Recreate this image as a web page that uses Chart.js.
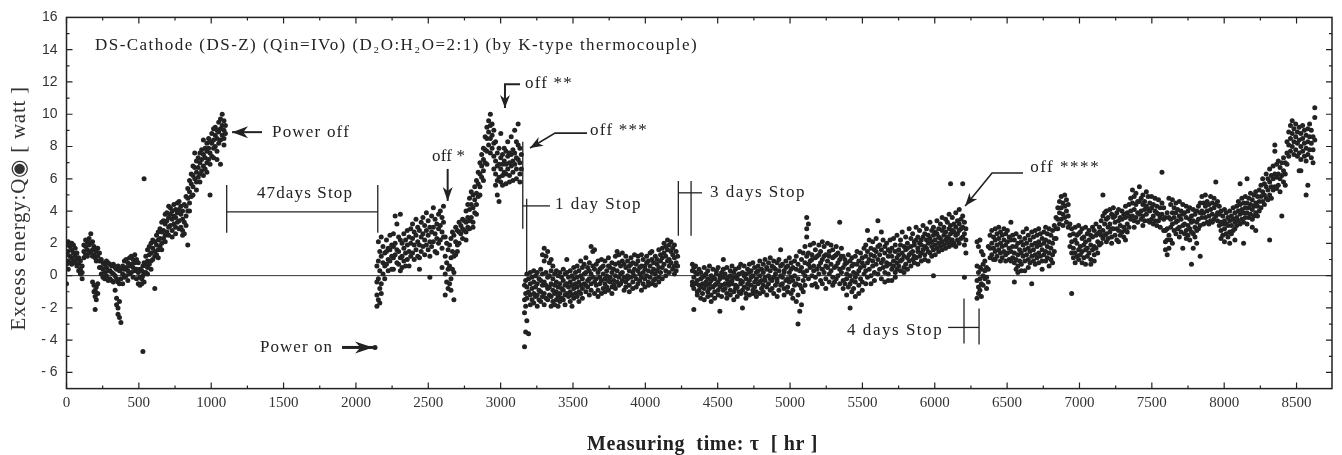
<!DOCTYPE html>
<html>
<head>
<meta charset="utf-8">
<title>DS-Cathode excess energy</title>
<script src="https://cdn.jsdelivr.net/npm/chart.js@4.4.1/dist/chart.umd.min.js"></script>
<style>
  html, body { margin: 0; padding: 0; background: #fff; }
  #wrap { width: 1342px; height: 455px; }
</style>
</head>
<body>
<div id="wrap"><canvas id="chart" width="1342" height="455"></canvas></div>
<script>
// tick labels
const xTicks = [0, 500, 1000, 1500, 2000, 2500, 3000, 3500, 4000, 4500, 5000, 5500, 6000, 6500, 7000, 7500, 8000, 8500];
const yTicks = [-6, -4, -2, 0, 2, 4, 6, 8, 10, 12, 14, 16];

// excess energy readings, one row per time: [hr, reading, reading, ...]
// before the 47 days stop
const seg1 = [
  [0,1.9,1.3,0.7,-0.5],[12,2.1,1.5,0.9,0.4],[24,1.8,1.2,0.8],[36,2.0,1.6,1.1,0.7],[48,1.9,1.4,0.9],
  [60,1.7,1.2,0.8],[72,1.4,1.0,0.6],[84,1.1,0.7,0.3],[96,0.9,0.4,0.1],[108,0.6,0.2,-0.2],
  [120,1.9,1.5,1.1],[132,2.2,1.8,1.3],[144,2.1,1.6,1.2],[156,2.3,1.9,1.4],[168,2.6,2.0,1.5],
  [180,2.1,1.6,1.2,-0.4],[190,1.8,1.3,-0.6,-1.0],[198,1.6,1.1,-0.9,-1.3,-2.1],[206,1.5,0.9,-0.7,-1.5],[216,1.7,1.2,-0.5,-1.1],
  [228,1.4,0.9,0.5],[240,1.0,0.5,0.1],[252,0.8,0.4,-0.1],[264,0.7,0.2,-0.2],[276,0.9,0.5,0.0],
  [288,0.8,0.3,-0.3],[300,0.7,0.3,-0.2],[312,0.6,0.2,-0.3],[324,0.7,0.1,-0.4],[336,0.5,0.0,-0.9],
  [346,0.4,-0.2,-1.4,-1.8],[356,0.6,-0.4,-2.0,-2.4],[366,0.3,-0.5,-1.6,-2.6],[376,0.4,-0.2,-2.9],[388,0.6,0.1,-0.5],
  [400,0.9,0.4,-0.1],[412,1.0,0.5,0.0],[424,0.8,0.3,-0.3],[436,1.1,0.6,0.1],[448,1.2,0.7,0.2],
  [460,1.0,0.5,-0.1],[472,1.3,0.8,0.3],[484,1.0,0.4,-0.2],[496,0.8,0.2,-0.5],[508,0.4,-0.1,-0.6],
  [520,0.3,-0.2,-0.5],[528,0.6,0.0,-4.7],[536,6.0,0.8,0.2,-0.4],[548,1.2,0.7,0.2],[560,1.6,0.9,0.5,0.1],
  [572,1.8,1.3,0.7],[584,2.0,1.4,0.9,0.4],[596,2.2,1.7,1.0],[610,2.1,1.5,1.2,-0.8],[622,2.5,1.9,1.3],
  [634,2.7,2.2,1.6,1.1],[646,2.9,2.3,1.8],[658,3.3,2.7,2.0,1.6],[670,3.4,2.8,2.3],[682,3.8,3.2,2.5,2.1],
  [694,3.9,3.4,2.7],[706,4.3,3.6,3.0,2.5],[718,4.2,3.8,3.1],[730,4.0,3.5,2.8,2.4],[742,4.4,3.7,3.2],
  [754,4.1,3.6,3.0,2.6],[766,4.5,3.9,3.3],[778,4.6,4.1,3.4,2.9],[790,4.3,3.8,3.0],[802,4.0,3.5,2.8,2.5],
  [814,4.4,3.3,2.6],[826,4.9,4.3,3.7,3.1],[838,5.4,4.8,4.0,1.9],[850,5.9,5.2,4.5,4.0],[862,6.3,5.7,4.9],
  [874,6.8,6.2,5.5,5.0],[886,7.6,6.7,6.0],[898,7.1,6.4,5.8,5.3],[910,7.3,6.7,6.1],[922,7.6,7.0,6.3,5.8],
  [934,7.8,7.2,6.5],[946,8.4,7.5,6.8,6.2],[958,7.9,7.3,6.6],[970,8.2,7.7,7.0,6.4],[982,8.5,7.9,7.2],
  [992,8.3,7.6,6.9,5.0],[1004,8.8,8.2,7.4],[1016,9.1,8.4,7.9,7.3],[1028,9.2,8.7,8.0],[1040,9.0,8.5,7.7,7.2],
  [1052,9.5,8.9,8.2],[1064,9.7,9.1,8.4,6.9],[1076,10.0,9.3,8.7],[1088,9.6,9.0,8.5,8.1],[1098,9.3,8.8]
];
const powerOn = [[2132,-4.45]];
// restart up to the 1 day stop
const seg2 = [
  [2145,0.6,-0.4,-1.2,-1.9],[2155,2.1,0.9,-0.2,-1.5],[2165,1.5,0.3,-0.8,-1.7],[2175,2.4,1.2,-0.5,-1.1],[2187,1.8,0.8,0.1],
  [2199,1.4,0.6,-0.2],[2211,2.2,1.5,0.7],[2223,1.7,1.0,0.3],[2235,2.5,1.6,0.9],[2247,1.9,1.2,0.4],
  [2259,2.6,1.8,1.1,0.4],[2271,3.7,2.0,1.3],[2283,3.2,1.6,0.8],[2295,2.4,1.5,0.7],[2307,3.8,2.2,1.1,0.3],
  [2319,2.0,1.2,0.5],[2331,2.6,1.7,0.9],[2343,2.2,1.4,0.6],[2355,2.8,1.9,1.0],[2367,2.4,1.5,0.6],
  [2379,2.9,2.0,1.2],[2391,3.2,2.3,1.4],[2403,2.7,1.9,1.0],[2415,3.5,2.5,1.6],[2427,3.0,2.1,1.2],
  [2439,2.8,1.9,1.1,0.4],[2451,3.3,2.4,1.5],[2463,3.6,2.6,1.8],[2475,3.1,2.2,1.3],[2487,3.9,2.8,1.9],
  [2499,3.4,2.5,1.6],[2511,3.0,2.1,1.2,-0.1],[2523,3.7,2.7,1.8],[2535,4.2,3.0,2.1],[2547,3.5,2.6,1.5],
  [2559,3.2,2.3,1.4],[2571,3.8,2.9,2.0],[2583,4.0,3.1,2.2],[2595,3.6,2.7,1.7,0.5],[2605,4.3,3.3,2.4],
  [2617,2.4,1.2,0.1,-1.2],[2627,2.0,0.8,-0.4],[2637,1.6,0.4,-0.8],[2647,1.9,0.6,-0.5],[2657,2.3,1.1,-0.2,-0.9],
  [2667,2.7,1.5,0.4],[2677,2.5,1.2,0.2,-1.5],[2689,3.0,2.1,1.3],[2701,2.8,1.9,1.5],[2713,3.3,2.7,2.0],
  [2725,3.1,2.6],[2737,3.5,2.9,2.3],[2749,3.4,2.8],[2761,4.0,3.3,2.7,2.2],[2773,4.4,3.6,3.0],
  [2785,4.8,4.1,3.4,2.9],[2797,5.2,4.4,3.6],[2809,5.0,4.2,3.3,3.0],[2821,5.5,4.7,3.9],[2833,5.9,5.1,4.4,3.8],
  [2845,6.4,5.7,4.9],[2857,7.0,6.3,5.5,5.0],[2869,7.5,6.8,6.1],[2881,7.9,7.2,6.5,5.9],[2893,8.6,7.8,7.0],
  [2905,9.2,8.5,7.7,6.9],[2917,9.6,8.9,8.1],[2929,10.0,9.3,8.5,7.6],[2941,9.4,8.7,7.9],[2953,9.0,8.2,7.4,6.6],
  [2965,8.3,7.1,6.3,5.6],[2977,7.6,6.8,5.9,5.0],[2989,7.9,6.9,6.1,4.6],[3001,8.8,7.3,6.6,5.8],[3013,7.5,6.9,6.2,5.6],
  [3025,7.9,7.1,6.4],[3037,7.7,6.9,6.3,5.7],[3049,8.3,7.4,6.6],[3061,7.6,7.0,6.2,5.8],[3073,8.6,7.5,6.8],
  [3085,7.8,7.1,6.4,5.9],[3097,9.0,7.6,6.9],[3109,8.3,7.3,6.6,6.0],[3121,9.4,8.1,7.2],[3133,7.9,7.0,6.3,5.8],
  [3143,7.5,6.6]
];
// after the 1 day stop
const seg3 = [
  [3165,-0.6,-1.5,-2.3,-4.4],[3173,-0.3,-1.1,-1.9,-3.5],[3181,0.1,-0.7,-1.4,-2.8],[3193,-0.2,-1.0,-3.6],[3205,0.2,-0.5,-1.2,-1.8],
  [3217,-0.1,-0.8,-1.5],[3229,0.3,-0.4,-1.1,-1.7],[3241,0.0,-0.7,-1.3],[3253,0.2,-0.5,-1.2,-1.9],[3265,-0.2,-0.9,-1.5],
  [3277,0.4,-0.3,-1.0,-1.6],[3289,1.3,0.1,-0.6,-1.3],[3301,1.7,0.9,-0.4,-1.1,-1.8],[3313,1.2,0.2,-0.6,-1.4],[3325,1.5,-0.1,-0.8,-1.5],
  [3337,0.8,0.0,-0.7,-1.2],[3349,1.0,0.3,-0.5,-1.3,-1.9],[3361,0.6,-0.2,-0.9,-1.6],[3373,0.1,-0.6,-1.1,-1.8],[3385,0.3,-0.4,-1.0,-1.5],
  [3397,0.0,-0.7,-1.3,-1.9],[3409,0.2,-0.5,-1.1,-1.6],[3421,-0.1,-0.8,-1.4],[3433,0.4,-0.3,-0.9,-1.5],[3445,0.1,-0.6,-1.2,-1.8],
  [3457,1.0,0.2,-0.5,-1.1],[3469,-0.1,-0.7,-1.3],[3481,0.3,-0.4,-1.0,-1.6],[3493,0.0,-0.6,-1.2,-1.9],[3505,0.5,-0.2,-0.8,-1.4],
  [3517,0.2,-0.5,-1.1],[3529,0.6,-0.1,-0.7,-1.3],[3541,0.3,-0.4,-1.0,-1.6],[3553,0.9,0.0,-0.6,-1.1],[3565,0.5,-0.2,-0.8,-1.4],
  [3577,0.7,0.1,-0.5],[3589,1.1,0.2,-0.6,-1.0],[3601,0.5,-0.3,-0.7],[3613,0.8,0.3,-0.2,-1.2],[3625,1.8,0.1,-0.5,-0.9],
  [3637,1.5,0.6,-0.1],[3649,1.6,0.4,-0.4,-1.1],[3661,0.7,-0.2,-0.6],[3673,0.9,0.2,-0.9,-1.3],[3685,0.4,-0.1,-0.5],
  [3697,1.0,0.5,-0.3,-1.1],[3709,0.6,0.1,-0.8],[3721,0.9,-0.2,-0.5,-1.0],[3733,0.3,0.0,-0.7],[3745,1.1,0.6,-0.3,-0.9],
  [3757,0.5,-0.1,-0.4],[3769,0.8,0.2,-0.7,-1.1],[3781,0.4,-0.3,-0.6],[3793,1.2,0.7,0.0,-0.8],[3805,1.5,0.3,-0.4],
  [3817,1.3,0.8,-0.1,-0.6],[3829,0.6,0.1,-0.5],[3841,1.4,0.9,0.2,-0.3],[3853,0.7,-0.1,-0.9],[3865,1.2,0.5,-0.4,-0.7],
  [3877,0.9,0.0,-0.2],[3889,0.6,0.3,-0.6,-1.0],[3901,1.1,0.7,-0.1],[3913,0.8,0.2,-0.4,-0.8],[3925,1.3,0.4,0.0],
  [3937,0.7,-0.2,-0.7],[3949,1.2,0.9,0.3,-0.5],[3961,0.5,0.1,-0.3],[3973,1.3,0.6,-0.1,-0.9],[3985,1.0,0.2,-0.5],
  [3997,0.6,0.4,-0.2,-0.7],[4009,1.2,0.8,0.0],[4021,0.9,0.3,-0.4,-0.6],[4033,1.4,0.6,-0.1],[4045,1.5,1.0,0.2,-0.5],
  [4057,0.8,0.4,-0.3],[4069,1.2,0.1,-0.6,-0.2],[4081,1.0,0.7,0.3],[4093,1.6,0.5,-0.1,-0.4],[4105,1.3,0.9,0.2],
  [4117,1.7,1.1,0.5,-0.2],[4129,2.0,1.4,0.7],[4141,1.8,1.2,0.3,0.0],[4153,2.2,1.6,0.9],[4165,1.9,1.0,0.6,0.2],
  [4177,2.1,1.5,0.8],[4189,1.7,1.3,0.4],[4201,1.9,1.1,0.6,0.1],[4213,1.5,0.8,0.3],[4223,1.2,0.6]
];
// after the 3 days stop
const seg4 = [
  [4325,0.7,0.3,-0.4,-0.6],[4335,0.5,-0.1,-0.8,-2.1],[4347,0.6,0.2,-0.5],[4359,0.1,-0.3,-1.0,-1.2],[4371,0.4,-0.6,-0.9],
  [4383,0.2,-0.2,-0.7,-1.4],[4395,-0.1,-0.5,-1.1],[4407,0.5,0.0,-0.8,-1.5],[4419,0.1,-0.4,-0.6],[4431,0.3,-0.2,-1.0,-1.3],
  [4443,0.6,-0.5,-0.8],[4455,0.0,-0.3,-1.2,-1.6],[4467,0.4,-0.1,-0.7],[4479,-0.2,-0.6,-1.0,-1.4],[4491,0.3,0.1,-0.5],
  [4503,0.5,-0.4,-0.9,-1.2],[4515,0.0,-0.2,-0.7,-2.2],[4527,0.2,-0.6,-1.3],[4539,1.0,0.4,-0.1,-0.9],[4551,0.1,-0.5,-0.8],
  [4563,0.5,-0.2,-1.1,-1.4],[4575,-0.1,-0.4,-0.6],[4587,0.3,0.0,-0.9,-1.2],[4599,0.6,-0.3,-0.5],[4611,0.2,-0.1,-1.0,-1.5],
  [4623,0.4,-0.6,-0.8],[4635,0.0,-0.2,-0.7,-1.3],[4647,0.5,0.1,-1.0],[4659,0.7,-0.3,-0.5,-1.1],[4671,0.2,-0.4,-0.9,-2.0],
  [4683,0.6,0.0,-0.7],[4695,0.1,-0.2,-1.1,-1.4],[4707,0.4,-0.5,-0.8],[4719,0.7,0.2,-0.3,-1.2],[4731,0.3,-0.1,-0.6],
  [4743,0.8,0.0,-0.9,-1.1],[4755,0.5,-0.4,-0.7],[4767,0.2,-0.2,-1.0,-1.3],[4779,0.6,0.3,-0.5],[4791,0.9,0.0,-0.4,-1.1],
  [4803,0.4,-0.3,-0.8],[4815,0.7,0.2,-0.6,-1.0],[4827,1.0,-0.1,-0.3],[4839,0.5,0.4,-0.7,-1.2],[4851,0.8,0.0,-0.5],
  [4863,1.1,0.3,-0.2,-0.9],[4875,0.6,-0.3,-0.8],[4887,0.9,0.5,-0.1,-1.1],[4899,0.4,0.1,-0.6],[4911,0.8,-0.2,-0.4,-1.3],
  [4923,1.0,0.3,-0.9],[4935,1.6,0.6,0.0,-0.6],[4947,0.7,-0.1,-0.5],[4959,0.3,0.2,-0.8,-1.2],[4971,0.9,0.5,-0.3],
  [4983,0.6,-0.2,-0.7,-1.0],[4995,1.1,0.2,-0.4],[5007,0.8,0.4,-0.1,-1.1],[5019,0.5,-0.3,-0.9,-1.4],[5031,0.9,0.0,-0.6],
  [5043,1.2,0.4,-0.5,-1.6],[5055,0.7,-0.2,-1.2,-3.0],[5067,1.5,0.3,-0.6,-2.2],[5079,1.0,0.5,-0.8,-1.8],[5091,1.4,0.2,-0.3,-1.0],
  [5103,1.8,0.8,0.0,-0.6],[5115,3.6,2.9,2.4,1.2,0.3],[5127,3.2,1.4,0.7,-0.2],[5139,1.9,0.9,0.5],[5151,1.3,1.0,0.0,-0.6],
  [5163,2.0,0.6,0.3],[5175,1.6,1.1,-0.1,-0.5],[5187,1.2,0.4,-0.7],[5199,1.9,1.3,0.6,0.1],[5211,1.5,0.8,-0.3],
  [5223,2.1,1.0,0.4,-0.5],[5235,1.8,1.2,0.2],[5247,1.3,0.6,-0.2,-0.8],[5259,2.0,0.9,0.5],[5271,1.5,1.2,0.1,-0.4],
  [5283,1.9,0.7,0.3],[5295,1.6,1.1,-0.1,-0.6],[5307,1.2,0.5,-0.4],[5319,1.8,1.3,0.6,-0.2],[5331,1.4,0.8,0.0],
  [5343,3.3,1.0,0.4,-0.5],[5355,1.7,1.2,0.2],[5367,1.2,0.5,-0.3,-0.8],[5379,1.0,0.7,-0.5],[5391,0.8,0.1,-0.2,-1.2],
  [5403,1.3,0.4,-0.7],[5415,0.9,0.0,-0.5,-2.0],[5427,1.1,0.6,-0.3,-1.0],[5439,0.7,0.2,-0.8],[5451,1.2,-0.1,-0.4,-1.3],
  [5463,1.5,0.7,0.1],[5475,0.9,0.3,-0.6,-1.1],[5487,1.4,0.5,-0.2],[5499,1.1,0.8,-0.4,-0.9],[5511,1.7,0.6,0.1],
  [5523,1.9,1.2,0.3,-0.5],[5535,2.8,1.5,0.8,-0.1],[5547,2.2,1.0,0.4],[5559,1.7,1.3,0.0,-0.5],[5571,2.1,0.9,0.6],
  [5583,1.6,1.2,0.2,-0.3],[5595,2.3,1.5,0.7],[5607,3.4,1.8,1.0,0.1],[5619,1.9,1.3,0.4],[5631,2.7,1.6,0.8,-0.2],
  [5643,2.2,1.0,0.5],[5655,1.8,1.4,0.2,-0.4],[5667,2.0,0.8,0.6],[5679,1.6,1.2,0.1,-0.3],[5691,2.2,1.5,0.7],
  [5703,1.7,1.2,0.4,-0.3],[5715,2.3,0.9,0.6],[5727,1.9,1.5,0.2,-0.1],[5739,2.5,1.1,0.8,0.4],[5751,1.6,1.3,0.6],
  [5763,2.2,1.9,0.9,0.3],[5775,2.7,1.4,1.0],[5787,1.8,1.2,0.5,0.2],[5799,2.4,1.6,0.7],[5811,2.0,1.7,1.1,0.4],
  [5823,2.9,1.3,0.9],[5835,2.3,1.8,1.4,0.6],[5847,2.6,1.5,1.0],[5859,2.1,1.9,1.2,0.8],[5871,3.0,2.2,1.1],
  [5883,2.4,1.7,1.5,0.7],[5895,2.8,2.0,1.2],[5907,2.2,1.9,1.4,0.9],[5919,3.1,2.4,1.6],[5931,2.6,1.8,1.3,1.0],
  [5943,2.9,2.2,1.7],[5955,2.5,2.0,1.5,0.9],[5967,3.3,2.3,1.4],[5979,2.8,2.1,1.8,1.2],[5991,3.0,2.5,1.6,0.0],
  [6003,2.7,2.2,1.9,1.3],[6015,3.4,2.6,1.7],[6027,2.9,2.4,2.0,1.5],[6039,3.2,2.3,1.8],[6051,3.6,2.8,2.1,1.6],
  [6063,3.0,2.5,1.9],[6075,3.5,2.7,2.2,1.7],[6087,3.3,2.4,2.0],[6099,3.8,2.9,2.3,1.8],[6109,5.7,3.1,2.6,2.1],
  [6121,3.6,2.8,2.2,1.9],[6133,3.2,2.7,2.0],[6145,3.9,3.0,2.5,1.8],[6157,3.4,2.6,2.2],[6169,4.1,3.2,2.8,2.0],
  [6181,3.5,2.9,2.3],[6193,5.7,3.7,3.0,2.4],[6205,3.3,2.6,1.9,-0.1],[6215,2.9,2.2,1.4]
];
// after the 4 days stop
const seg5 = [
  [6292,2.1,0.6,-0.3,-1.4],[6302,1.8,0.2,-0.7,-1.1],[6312,2.2,0.5,-0.2,-0.9],[6322,1.5,0.4,-0.5,-1.3],[6334,1.3,0.7,0.0,-0.6],
  [6346,0.9,0.3,-0.2],[6358,0.5,-0.1,-0.8],[6370,1.8,0.4,-0.4],[6382,2.5,1.7,1.1],[6394,2.8,2.0,1.3],
  [6406,2.4,1.7,1.0],[6418,2.9,2.2,1.5,1.0],[6430,2.6,1.9,1.2],[6442,3.0,2.3,1.6],[6454,2.7,2.0,1.4,0.9],
  [6466,2.5,1.8,1.1],[6478,2.9,2.2,1.5],[6490,2.6,1.9,1.3,0.9],[6502,2.8,2.1,1.4],[6514,2.4,1.7,1.0],
  [6526,3.3,2.2,1.5,0.9],[6538,2.5,1.8,1.1],[6550,2.2,1.4,0.8,-0.4],[6562,2.6,1.8,1.0,0.4],[6574,2.0,1.3,0.6,0.2],
  [6586,2.4,1.6,0.9],[6598,2.1,1.4,0.7,0.3],[6610,2.7,1.9,1.2],[6622,2.3,1.6,0.9,0.3],[6634,2.9,2.0,1.3],
  [6646,2.5,1.7,1.0,0.5],[6658,2.2,1.5,0.8],[6670,2.7,1.9,1.2,-0.5],[6682,2.4,1.6,0.9],[6694,2.8,2.0,1.3,0.7],
  [6706,2.5,1.8,1.1],[6718,2.9,2.1,1.4,0.8],[6730,2.6,1.9,1.2],[6742,2.3,1.6,0.9,0.4],[6754,2.7,2.0,1.3],
  [6766,3.0,2.2,1.5,0.9],[6778,2.6,1.8,1.1],[6790,2.9,2.1,1.4,0.6],[6802,2.5,1.7,1.0],[6814,2.8,2.0,1.3,0.8],
  [6826,3.1,2.3,1.5],[6838,3.6,2.9,2.3],[6850,4.2,3.5,2.9],[6862,4.6,3.9,3.2],[6874,4.9,4.2,3.5],
  [6886,4.5,3.8,3.1],[6898,5.0,4.3,3.6],[6910,4.7,4.0,3.3],[6922,4.4,3.7,3.0],[6934,3.2,2.5,1.8],
  [6946,2.9,2.1,1.4,-1.1],[6958,2.6,1.7,1.1],[6970,3.0,2.2,1.4,0.8],[6982,2.5,2.0,1.2],[6994,3.1,2.6,1.6,1.0],
  [7006,2.7,1.8,1.3],[7018,2.9,2.3,1.5,0.8],[7030,2.4,1.9,1.1],[7042,3.0,2.1,1.6,0.7],[7054,2.6,1.7,1.2],
  [7066,2.8,2.2,1.4],[7078,2.5,1.9,1.0,0.7],[7090,3.0,2.4,1.6],[7102,2.8,1.8,1.3,0.9],[7114,3.2,2.5,1.7],
  [7126,2.6,2.1,1.4],[7138,3.0,2.7,1.9],[7150,3.4,2.5,2.0],[7162,5.0,3.7,2.8,2.3],[7174,3.9,3.2,2.5],
  [7186,4.0,3.5,2.6,2.1],[7198,3.6,3.0,2.3],[7210,4.1,3.2,2.7],[7222,3.8,2.9,2.4,2.0],[7234,4.2,3.6,2.9],
  [7246,3.7,3.3,2.5],[7258,3.9,2.9,2.2],[7270,4.1,3.4,2.8,2.1],[7282,3.6,3.1,2.5],[7294,4.0,3.5,2.7],
  [7306,3.8,3.0,2.4],[7318,4.3,3.6,2.8,2.2],[7330,3.9,3.2,2.7],[7342,4.4,3.7,3.0],[7354,4.8,4.0,3.5],
  [7366,5.3,4.5,3.7],[7378,4.9,4.1,3.4,3.0],[7390,5.1,4.4,3.6],[7402,4.6,3.9,3.3],[7414,5.5,4.6,3.8],
  [7426,4.8,4.0,3.5],[7438,5.0,4.4,3.7,3.1],[7450,4.6,4.1,3.4],[7462,5.2,4.3,3.8],[7474,4.9,4.1,3.4],
  [7486,4.5,4.0,3.3],[7498,4.9,4.2,3.5],[7510,4.4,3.7,3.2],[7522,4.8,4.0,3.4],[7534,4.3,3.9,3.1],
  [7546,4.7,3.8,3.4],[7558,4.2,3.6,3.0],[7570,6.4,4.5,3.8],[7582,4.2,3.5,2.8],[7594,3.6,2.8,2.1,1.6],
  [7606,3.9,2.9,2.2,1.3],[7618,4.8,3.6,2.5,1.7],[7630,4.4,3.5,3.0,2.2],[7642,4.7,3.9,3.2,2.0],[7654,4.2,3.6,2.8],
  [7666,4.5,3.9,3.3,2.6],[7678,4.1,3.4,2.9],[7690,4.6,3.7,3.0,2.4],[7702,4.0,3.5,2.7],[7714,4.4,3.8,3.1,1.7],
  [7726,3.9,3.2,2.6],[7738,4.3,3.6,2.8,2.3],[7750,4.0,3.1,2.5],[7762,4.2,3.5,2.9,2.2],[7774,3.7,3.3,2.7,0.7],
  [7786,4.1,3.4,2.6,1.7],[7798,3.8,3.0,2.4],[7810,4.0,3.3,2.8,2.0],[7822,4.3,3.5,2.9],[7834,4.5,3.9,3.1,1.2],
  [7846,4.9,4.0,3.6],[7858,4.5,3.9,3.2],[7870,5.0,4.3,3.6],[7882,4.6,4.0,3.3],[7894,4.4,3.7,3.2],
  [7906,4.9,4.1,3.4],[7918,4.5,3.8,3.3],[7930,4.8,4.2,3.5],[7942,5.8,4.4,3.7],[7954,4.6,3.9,3.4],
  [7966,4.3,3.8,3.1],[7978,4.0,3.3,2.8,2.3],[7990,3.7,3.2,2.5],[8002,4.1,3.4,2.9,2.1],[8014,3.9,3.2,2.6],
  [8026,3.6,3.1,2.4],[8038,4.0,3.4,2.7,2.0],[8050,3.7,3.1,2.6],[8062,4.2,3.5,2.8],[8074,3.9,3.3,2.9,2.2],
  [8086,4.3,3.6,3.1],[8098,4.6,4.0,3.4],[8110,5.7,4.4,3.8,3.2],[8122,4.8,4.1,3.5],[8134,4.5,3.9,3.3,2.0],
  [8146,4.9,4.2,3.6],[8158,6.0,4.5,3.9,3.2],[8170,4.8,4.2,3.6],[8182,5.1,4.4,3.8],[8194,4.7,4.1,3.5,3.0],
  [8206,5.0,4.3,3.7],[8218,5.2,4.5,3.9,2.8],[8230,4.9,4.3,3.7],[8242,5.3,4.6,4.0],[8254,5.6,4.9,4.2],
  [8266,6.0,5.2,4.6],[8278,5.7,5.0,4.4],[8290,6.3,5.5,4.8],[8302,6.0,5.3,4.7],[8314,6.6,5.8,5.0,2.2],
  [8326,6.2,5.5,4.8],[8338,6.8,6.0,5.3],[8350,8.1,7.7,6.3,5.5],[8362,6.9,6.1,5.4],[8374,7.1,6.3,5.6],
  [8386,6.7,6.0,5.2],[8398,7.0,6.2,3.7],[8410,7.3,6.5,5.8],[8422,7.0,6.3,5.6],[8434,8.3,7.6,6.9],
  [8446,8.9,8.1,7.4],[8458,9.3,8.5,7.7],[8470,9.6,8.8,8.0],[8482,9.1,8.3,7.5],[8494,9.4,8.6,7.8],
  [8506,8.9,8.2,7.4],[8518,9.2,8.4,7.6,6.5],[8530,8.8,8.0,7.2,6.5],[8542,9.3,8.5,7.7],[8554,9.0,8.2,7.4],
  [8566,8.7,7.9,7.1,5.0],[8578,9.1,8.3,7.5,5.6],[8590,9.4,8.6,7.8],[8602,9.0,8.2,7.3],[8614,8.6,7.8,7.0],
  [8626,10.4,9.8,8.4]
];

const toPoints = rows => rows.flatMap(r => r.slice(1).map(v => ({ x: r[0], y: v })));
const points = [seg1, powerOn, seg2, seg3, seg4, seg5].flatMap(toPoints);

const ink = '#222';
const serif = '"Liberation Serif", "DejaVu Serif", serif';

// frame, inward ticks, zero line, labels and arrows (all placed through the scales)
const decor = {
  id: 'decor',
  beforeDatasetsDraw(chart) {
    const { ctx, chartArea: a, scales: { y } } = chart;
    ctx.save();
    ctx.strokeStyle = '#333';
    ctx.lineWidth = 1;
    ctx.beginPath();
    ctx.moveTo(a.left, y.getPixelForValue(0));
    ctx.lineTo(a.right, y.getPixelForValue(0));
    ctx.stroke();
    ctx.restore();
  },
  afterDraw(chart) {
    const { ctx, chartArea: a, scales: { x, y } } = chart;
    const P = (h, v) => [x.getPixelForValue(h), y.getPixelForValue(v)];

    ctx.save();
    ctx.strokeStyle = ink;
    ctx.fillStyle = ink;

    // frame
    ctx.lineWidth = 1.5;
    ctx.strokeRect(a.left, a.top, a.right - a.left, a.bottom - a.top);

    // ticks
    ctx.lineWidth = 1.2;
    ctx.beginPath();
    for (let h = 0; h <= 8500; h += 250) {
      const px = x.getPixelForValue(h), len = h % 500 === 0 ? 6 : 3;
      ctx.moveTo(px, a.bottom); ctx.lineTo(px, a.bottom - len);
      ctx.moveTo(px, a.top); ctx.lineTo(px, a.top + len);
    }
    for (let v = -6; v <= 15; v++) {
      const py = y.getPixelForValue(v), len = v % 2 === 0 ? 6 : 3;
      ctx.moveTo(a.left, py); ctx.lineTo(a.left + len, py);
      ctx.moveTo(a.right, py); ctx.lineTo(a.right - len, py);
    }
    ctx.stroke();

    function poly(pts, lw) {
      ctx.lineWidth = lw;
      ctx.beginPath();
      pts.forEach(([h, v], i) => {
        const [px, py] = P(h, v);
        if (i === 0) ctx.moveTo(px, py); else ctx.lineTo(px, py);
      });
      ctx.stroke();
    }
    function arrow(pts, lw, len, wid) {
      poly(pts, lw);
      const [tx, ty] = P(...pts[pts.length - 1]);
      const [fx, fy] = P(...pts[pts.length - 2]);
      const d = Math.hypot(tx - fx, ty - fy), ux = (tx - fx) / d, uy = (ty - fy) / d;
      const bx = tx - ux * len, by = ty - uy * len, nx = -uy * wid / 2, ny = ux * wid / 2;
      ctx.beginPath();
      ctx.moveTo(tx, ty);
      ctx.lineTo(bx + nx, by + ny);
      ctx.lineTo(tx - ux * len * 0.7, ty - uy * len * 0.7);
      ctx.lineTo(bx - nx, by - ny);
      ctx.closePath();
      ctx.fill();
    }
    function txt(s, h0, h1, v, font) {
      const [x0, py] = P(h0, v), x1 = x.getPixelForValue(h1);
      ctx.font = font;
      ctx.letterSpacing = '0px';
      const w = ctx.measureText(s).width;
      ctx.letterSpacing = ((x1 - x0 - w) / s.length) + 'px';
      ctx.textAlign = 'left';
      ctx.textBaseline = 'middle';
      ctx.fillText(s, x0, py);
      ctx.letterSpacing = '0px';
    }

    const f17 = '17px ' + serif;
    txt('DS-Cathode (DS-Z) (Qin=IVo) (D\u2082O:H\u2082O=2:1) (by K-type thermocouple)', 197, 4364, 14.27, '17px ' + serif);

    arrow([[1351, 8.89], [1144, 8.89]], 2, 16, 12);
    txt('Power off', 1420, 1959, 8.89, f17);

    poly([[1107, 5.62], [1107, 2.66]], 1.3);
    poly([[2151, 5.62], [2151, 2.66]], 1.3);
    poly([[1107, 3.95], [2151, 3.95]], 1.3);
    txt('47days Stop', 1316, 1980, 5.06, f17);

    arrow([[1904, -4.45], [2118, -4.45]], 3, 18, 12);
    txt('Power on', 1337, 1842, -4.45, f17);

    arrow([[2634, 6.61], [2634, 4.63]], 2, 14, 10);
    txt('off *', 2526, 2754, 7.41, f17);

    arrow([[3134, 11.86], [3030, 11.86], [3030, 10.38]], 2, 13, 10);
    txt('off **', 3169, 3500, 11.92, f17);

    arrow([[3597, 8.83], [3376, 8.83], [3203, 7.91]], 1.6, 13, 10);
    txt('off ***', 3618, 4019, 8.96, f17);

    poly([[3153, 8.3], [3153, 2.9]], 1.3);
    poly([[3180, 4.76], [3180, 0.12]], 1.3);
    poly([[3153, 4.32], [3341, 4.32]], 1.3);
    txt('1 day Stop', 3376, 3977, 4.39, f17);

    poly([[4228, 5.87], [4228, 2.47]], 1.3);
    poly([[4316, 5.87], [4316, 2.47]], 1.3);
    poly([[4228, 5.13], [4392, 5.13]], 1.3);
    txt('3 days Stop', 4447, 5111, 5.13, f17);

    arrow([[6610, 6.36], [6396, 6.36], [6210, 4.32]], 1.6, 13, 10);
    txt('off ****', 6659, 7143, 6.67, f17);

    poly([[6202, -1.42], [6202, -4.2]], 1.3);
    poly([[6306, -2.04], [6306, -4.26]], 1.3);
    poly([[6092, -3.21], [6306, -3.21]], 1.3);
    txt('4 days Stop', 5394, 6058, -3.40, f17);

    // axis titles
    txt('Measuring  time: \u03c4  [ hr ]', 3597, 5193, -10.5, 'bold 20px ' + serif);

    const [tx, t0] = P(-325, -3.40), t1 = y.getPixelForValue(11.74);
    const yTitle = 'Excess energy:Q\u25c9 [ watt ]';
    ctx.translate(tx, (t0 + t1) / 2);
    ctx.rotate(-Math.PI / 2);
    ctx.font = '21px ' + serif;
    ctx.letterSpacing = '0px';
    const w = ctx.measureText(yTitle).width;
    ctx.letterSpacing = ((t0 - t1 - w) / yTitle.length) + 'px';
    ctx.textAlign = 'center';
    ctx.textBaseline = 'middle';
    ctx.fillStyle = '#333';
    ctx.fillText(yTitle, 0, 0);
    ctx.restore();
  }
};

const ctx = document.getElementById('chart').getContext('2d');
new Chart(ctx, {
  type: 'scatter',
  data: {
    datasets: [{
      data: points,
      pointRadius: 2.5,
      pointBorderWidth: 0,
      pointBackgroundColor: ink,
      pointHoverRadius: 2.5
    }]
  },
  options: {
    responsive: false,
    animation: false,
    layout: { padding: { left: 0, right: 10, top: 16, bottom: 0 } },
    plugins: { legend: { display: false }, tooltip: { enabled: false } },
    scales: {
      x: {
        type: 'linear',
        min: 0,
        max: 8745,
        afterBuildTicks: s => { s.ticks = xTicks.map(v => ({ value: v })); },
        afterFit: s => { s.height = 66.4; },
        grid: { display: false, drawTicks: false },
        border: { display: false },
        ticks: {
          color: '#333',
          autoSkip: false,
          maxRotation: 0,
          padding: 5,
          font: { family: serif, size: 15 },
          callback: v => String(v)
        }
      },
      y: {
        min: -7,
        max: 16,
        afterBuildTicks: s => { s.ticks = yTicks.map(v => ({ value: v })); },
        afterFit: s => { s.width = 66.5; },
        grid: { display: false, drawTicks: false },
        border: { display: false },
        ticks: {
          color: '#333',
          padding: 9,
          font: { family: '"Liberation Sans", Arial, sans-serif', size: 14 },
          callback: v => v < 0 ? '- ' + (-v) : String(v)
        }
      }
    }
  },
  plugins: [decor]
});
</script>
</body>
</html>
